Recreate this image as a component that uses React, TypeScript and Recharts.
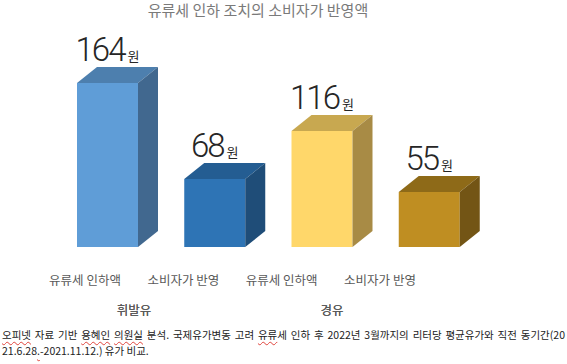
import { BarChart, Bar, XAxis, YAxis, LabelList } from "recharts";

const barIds = ["gas-cut", "gas-pass", "diesel-cut", "diesel-pass"];
const categories = ["유류세 인하액", "소비자가 반영", "유류세 인하액", "소비자가 반영"];
const fuels = ["휘발유", "휘발유", "경유", "경유"];
const amounts = [164, 68, 116, 55];

const fronts = ["#5f9dd7", "#2e74b5", "#ffd76a", "#bf8e22"];
const tops = ["#4d7fae", "#245d92", "#c8a850", "#8e6a18"];
const sides = ["#41688f", "#1f4d78", "#a88b45", "#735515"];

const data = barIds.map((id, i) => ({
  id,
  category: categories[i],
  fuel: fuels[i],
  amount: amounts[i],
}));

const DX = 20;
const DY = 16;
const KR = "'Noto Sans CJK KR', 'Noto Sans', sans-serif";

function Block(props: any) {
  const { x, y, width, height, index } = props;
  return (
    <g>
      <rect x={x} y={y} width={width} height={height} fill={fronts[index]} />
      <polygon
        points={`${x},${y} ${x + DX},${y - DY} ${x + width + DX},${y - DY} ${x + width},${y}`}
        fill={tops[index]}
      />
      <polygon
        points={`${x + width},${y} ${x + width + DX},${y - DY} ${x + width + DX},${y + height - DY} ${x + width},${y + height}`}
        fill={sides[index]}
      />
    </g>
  );
}

function ValueLabel(props: any) {
  const { x, y, width, value } = props;
  return (
    <text x={x + width / 2} y={y - DY - 6} textAnchor="middle" fill="#262626">
      <tspan fontFamily="Roboto, sans-serif" fontWeight={300} fontSize={33} letterSpacing={-2}>
        {value}
      </tspan>
      <tspan fontFamily={KR} fontSize={13} dx={3}>
        원
      </tspan>
    </text>
  );
}

function CategoryTick(props: any) {
  const { x, y, payload } = props;
  return (
    <text x={x} y={y} dy={0} textAnchor="middle" fill="#595959" fontFamily={KR} fontSize={12.5}>
      {categories[payload.index] ?? payload.value}
    </text>
  );
}

function FuelTick(props: any) {
  const { x, y, payload } = props;
  return (
    <text x={x} y={y} dy={0} textAnchor="middle" fill="#595959" fontFamily={KR} fontSize={12.5}>
      {payload.value}
    </text>
  );
}

const squiggle = {
  textDecoration: "underline wavy #e0443c",
  textUnderlineOffset: "2px",
  textDecorationThickness: "1px",
} as const;

export default function App() {
  return (
    <div style={{ position: "absolute", left: 0, top: 0, width: 567, height: 364, background: "#fff", fontFamily: KR }}>
      <div
        style={{
          position: "absolute",
          left: 0,
          width: 516,
          top: 0,
          textAlign: "center",
          fontSize: 15,
          color: "#7a7a7a",
          lineHeight: "20px",
        }}
      >
        유류세 인하 조치의 소비자가 반영액
      </div>
      <BarChart
        width={567}
        height={364}
        data={data}
        margin={{ top: 47, right: 84, bottom: 57, left: 54 }}
      >
        <YAxis hide domain={[0, 200]} />
        <XAxis xAxisId="bars" dataKey="id" hide />
        <XAxis
          xAxisId="cats"
          dataKey="id"
          scale="point"
          padding={{ left: 31, right: 103 }}
          axisLine={false}
          tickLine={false}
          interval={0}
          height={30}
          tick={<CategoryTick />}
        />
        <XAxis
          xAxisId="fuels"
          dataKey="fuel"
          scale="point"
          allowDuplicatedCategory={false}
          padding={{ left: 80, right: 151 }}
          axisLine={false}
          tickLine={false}
          interval={0}
          height={30}
          tick={<FuelTick />}
        />
        <Bar
          xAxisId="bars"
          dataKey="amount"
          barSize={61}
          shape={<Block />}
          isAnimationActive={false}
        >
          <LabelList dataKey="amount" content={<ValueLabel />} />
        </Bar>
      </BarChart>
      <div
        style={{
          position: "absolute",
          left: 2,
          top: 327,
          width: 563,
          fontSize: 10.5,
          color: "#222",
          lineHeight: "16px",
        }}
      >
        <div style={{ textAlign: "justify", textAlignLast: "justify", whiteSpace: "nowrap" }}>
          <span style={squiggle}>오피넷</span> 자료 기반 <span style={squiggle}>용혜인</span>{" "}
          <span style={squiggle}>의원실</span> 분석. 국제유가변동 고려 <span style={squiggle}>유류</span>세 인하 후
          2022년 3월까지의 리터당 평균유가와 직전 동기간(20
        </div>
        <div>
          21.6.28<span style={squiggle}>.</span>-2021.11.12.) 유가 비교.
        </div>
      </div>
    </div>
  );
}
